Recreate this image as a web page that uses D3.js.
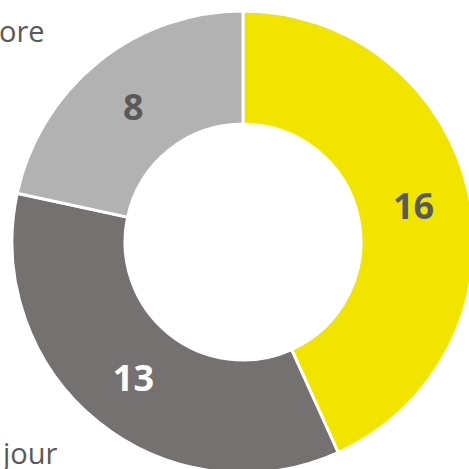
<!DOCTYPE html>
<html><head><meta charset="utf-8">
<script src="https://cdn.jsdelivr.net/npm/d3@7"></script>
<style>html,body{margin:0;padding:0;background:#fff;overflow:hidden}svg{display:block}</style>
</head><body>
<svg id="c" width="469" height="469"></svg>
<script>
const values = [16, 13, 8];
const colors = ["#F1E500", "#767171", "#B2B2B2"];
const labelColors = ["#595959", "#FFFFFF", "#595959"];
const sideTexts = ["ore", "jour"];

const svg = d3.select("#c");
const cx = 243, cy = 242, rOuter = 231, rInner = 118;
const g = svg.append("g").attr("transform", `translate(${cx},${cy})`);
const pie = d3.pie().sort(null).value(d => d);
const arc = d3.arc().innerRadius(rInner).outerRadius(rOuter);
const arcs = pie(values);
g.selectAll("path").data(arcs).join("path")
  .attr("d", arc).attr("fill", (d, i) => colors[i])
  .attr("stroke", "#fff").attr("stroke-width", 3).attr("stroke-linejoin", "miter");
g.selectAll("text.v").data(arcs).join("text").attr("class", "v")
  .attr("transform", d => `translate(${arc.centroid(d)})`)
  .attr("text-anchor", "middle").attr("dy", "0.37em")
  .attr("font-family", "Open Sans, sans-serif").attr("font-weight", "bold")
  .attr("font-size", 36).attr("fill", (d, i) => labelColors[i])
  .text(d => d.data);

svg.append("text").attr("x", -1).attr("y", 42).attr("font-family", "Open Sans, sans-serif")
  .attr("font-size", 29).attr("fill", "#595959").text(sideTexts[0]);
svg.append("text").attr("x", 3).attr("y", 464).attr("font-family", "Open Sans, sans-serif")
  .attr("font-size", 29).attr("fill", "#595959").text(sideTexts[1]);
</script>
</body></html>
